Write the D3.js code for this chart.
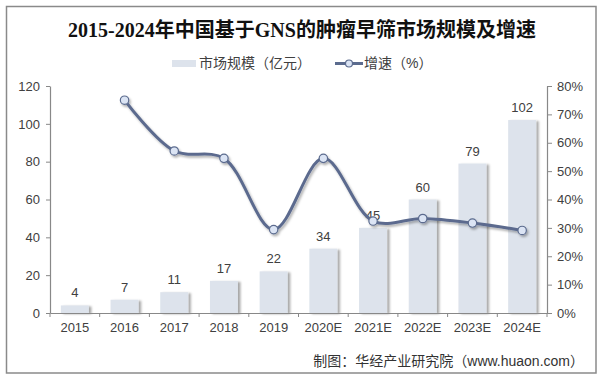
<!DOCTYPE html>
<html><head><meta charset="utf-8">
<script src="https://cdn.jsdelivr.net/npm/d3@7"></script>
<style>
html,body{margin:0;padding:0;background:#fff;}
svg{display:block;}
</style></head>
<body>
<script>
const categories = ["2015","2016","2017","2018","2019","2020E","2021E","2022E","2023E","2024E"];
const marketSize = [4,7,11,17,22,34,45,60,79,102];
const growth = [null,75,57.1,54.5,29.4,54.5,32.4,33.3,31.7,29.1];
const leftTicks = [0,20,40,60,80,100,120];
const rightTicks = [0,10,20,30,40,50,60,70,80];
const titleText = "2015-2024年中国基于GNS的肿瘤早筛市场规模及增速";
const legendBar = "市场规模（亿元）";
const legendLine = "增速（%）";
const sourceText = "制图：华经产业研究院（www.huaon.com）";

const W = 602, H = 381;
const m = {left:50, right:547, top:86, bottom:313};
const numFont = "'Liberation Sans', Arial, 'Noto Sans CJK SC', sans-serif";
const cjkFont = "'Liberation Sans', 'Noto Sans CJK SC', sans-serif";

const svg = d3.select("body").append("svg").attr("width",W).attr("height",H);
const defs = svg.append("defs");
const f = defs.append("filter").attr("id","shadow").attr("x","-20%").attr("y","-20%").attr("width","160%").attr("height","160%");
f.append("feDropShadow").attr("dx",2.5).attr("dy",1).attr("stdDeviation",1.3).attr("flood-color","#000").attr("flood-opacity",0.35);
const f2 = defs.append("filter").attr("id","lshadow").attr("x","-10%").attr("y","-10%").attr("width","120%").attr("height","130%");
f2.append("feDropShadow").attr("dx",1.5).attr("dy",2).attr("stdDeviation",1.2).attr("flood-color","#000").attr("flood-opacity",0.3);

svg.append("rect").attr("x",6.5).attr("y",6.5).attr("width",589.5).attr("height",366.5)
  .attr("fill","#fff").attr("stroke","#8a8a8a").attr("stroke-width",1.5);

svg.append("text").attr("x",302).attr("y",36.5).attr("text-anchor","middle")
  .attr("font-family","'Liberation Serif','Noto Sans CJK SC',serif").attr("font-weight","bold")
  .attr("font-size",20).attr("fill","#111").text(titleText);

const x = d3.scaleBand().domain(categories).range([m.left,m.right]).paddingInner(0.44).paddingOuter(0.22);
const xb = d3.scaleBand().domain(categories).range([m.left,m.right]);
const y = d3.scaleLinear().domain([0,120]).range([m.bottom,m.top]);
const y2 = d3.scaleLinear().domain([0,80]).range([m.bottom,m.top]);

// bars
svg.append("g").selectAll("rect").data(marketSize).join("rect")
  .attr("x",(d,i)=>xb(categories[i]) + xb.bandwidth()/2 - 14)
  .attr("width",28)
  .attr("y",d=>y(d)).attr("height",d=>y(0)-y(d))
  .attr("fill","#dde3ec").attr("filter","url(#shadow)");

// bar labels
svg.append("g").selectAll("text").data(marketSize).join("text")
  .attr("x",(d,i)=>xb(categories[i]) + xb.bandwidth()/2)
  .attr("y",d=>y(d)-8)
  .attr("text-anchor","middle").attr("font-family",numFont).attr("font-size",13).attr("fill","#404040")
  .text(d=>d);

// axes
const gx = svg.append("g").attr("transform",`translate(0,${m.bottom})`)
  .call(d3.axisBottom(xb).tickSize(0).tickPadding(0));
gx.select(".domain").attr("stroke","#888").attr("stroke-width",1.2);
gx.selectAll("text").attr("font-family",numFont).attr("font-size",13).attr("fill","#404040").attr("dy",0).attr("y",19);
// category boundary ticks
gx.append("g").selectAll("line").data(d3.range(categories.length+1)).join("line")
  .attr("x1",i=>m.left + i*xb.step()).attr("x2",i=>m.left + i*xb.step())
  .attr("y1",0).attr("y2",4).attr("stroke","#888");

const gy = svg.append("g").attr("transform",`translate(${m.left},0)`)
  .call(d3.axisLeft(y).tickValues(leftTicks).tickSize(4).tickPadding(6).tickSizeOuter(0));
gy.select(".domain").attr("stroke","#888").attr("stroke-width",1.2);
gy.selectAll(".tick line").attr("stroke","#888");
gy.selectAll("text").attr("font-family",numFont).attr("font-size",13).attr("fill","#404040");

const gy2 = svg.append("g").attr("transform",`translate(${m.right},0)`)
  .call(d3.axisRight(y2).tickValues(rightTicks).tickSize(5).tickPadding(5).tickSizeOuter(0).tickFormat(d=>d+"%"));
gy2.select(".domain").attr("stroke","#888").attr("stroke-width",1.2);
gy2.selectAll(".tick line").attr("stroke","#888");
gy2.selectAll("text").attr("font-family",numFont).attr("font-size",13).attr("fill","#404040");

// line
const pts = growth.map((g,i)=>({c:categories[i],g})).filter(d=>d.g!=null);
const line = d3.line().x(d=>xb(d.c)+xb.bandwidth()/2).y(d=>y2(d.g)).curve(d3.curveCatmullRom.alpha(0.5));
const lg = svg.append("g").attr("filter","url(#lshadow)");
lg.append("path").datum(pts).attr("d",line).attr("fill","none").attr("stroke","#5b6b8e").attr("stroke-width",3);
lg.selectAll("circle").data(pts).join("circle")
  .attr("cx",d=>xb(d.c)+xb.bandwidth()/2).attr("cy",d=>y2(d.g)).attr("r",4.2)
  .attr("fill","#dbe4f4").attr("stroke","#5b6b8e").attr("stroke-width",1.2);

// legend
const leg = svg.append("g");
leg.append("rect").attr("x",172).attr("y",60).attr("width",24).attr("height",7).attr("fill","#dde3ec");
leg.append("text").attr("x",199).attr("y",68).attr("font-family",cjkFont).attr("font-size",14).attr("fill","#404040").text(legendBar);
leg.append("line").attr("x1",335).attr("x2",363).attr("y1",63.5).attr("y2",63.5).attr("stroke","#5b6b8e").attr("stroke-width",3);
leg.append("circle").attr("cx",349).attr("cy",63.5).attr("r",3.5).attr("fill","#dbe4f4").attr("stroke","#5b6b8e").attr("stroke-width",1.2);
leg.append("text").attr("x",364).attr("y",68).attr("font-family",cjkFont).attr("font-size",14).attr("fill","#404040").text(legendLine);

// source
svg.append("text").attr("x",584).attr("y",366).attr("text-anchor","end")
  .attr("font-family",cjkFont).attr("font-size",14).attr("fill","#333").text(sourceText);
</script>
</body></html>
